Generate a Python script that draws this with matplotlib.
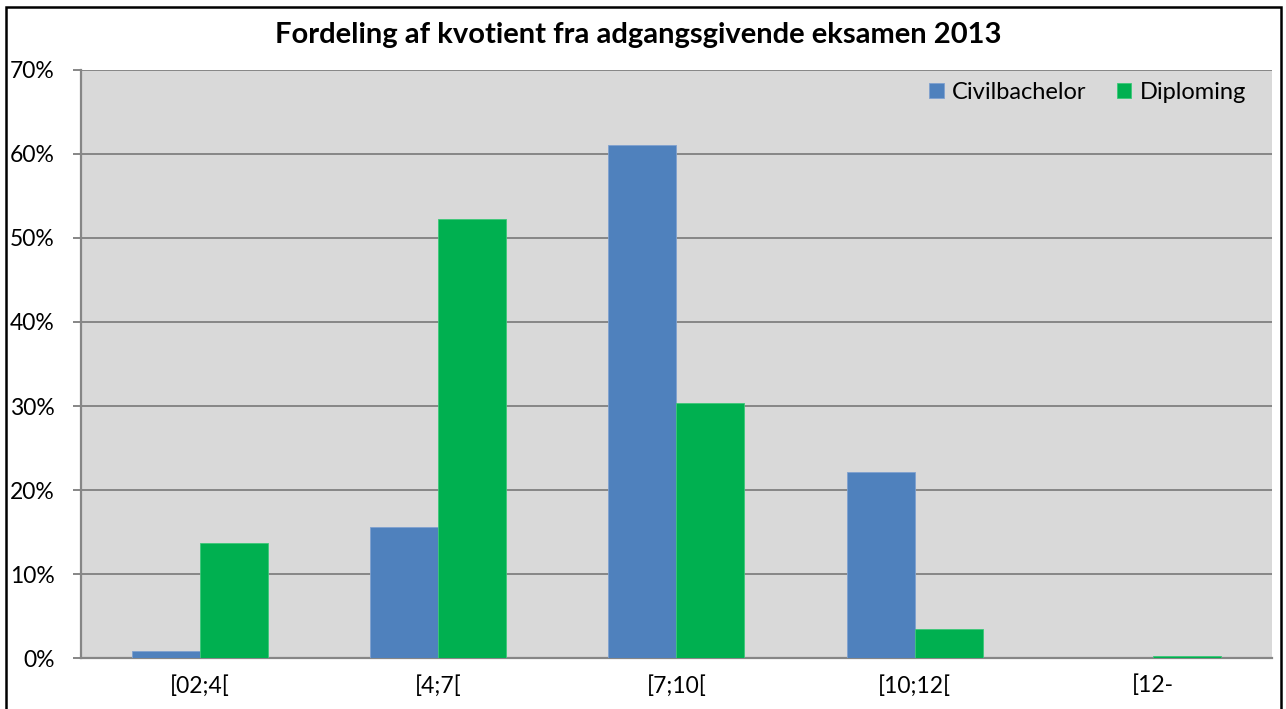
import matplotlib.pyplot as plt
import numpy as np
from matplotlib.patches import Rectangle
from matplotlib.ticker import PercentFormatter

# data (percent)
categories = ["[02;4[", "[4;7[", "[7;10[", "[10;12[", "[12-"]
civilbachelor = [0.8, 15.6, 61.1, 22.2, 0.05]
diploming = [13.7, 52.3, 30.4, 3.4, 0.2]

plt.rcParams["font.family"] = ["Lato", "DejaVu Sans"]

fig = plt.figure(figsize=(12.86, 7.09), dpi=100)
ax = fig.add_axes([0.063, 0.0719, 0.926, 0.8294])

x = np.arange(len(categories))
w = 1 / 3.5
ax.bar(x - w / 2, civilbachelor, w, color="#4F81BD", edgecolor="#7FA1CF",
       linewidth=0.6, label="Civilbachelor", zorder=3)
ax.bar(x + w / 2, diploming, w, color="#00B050", edgecolor="#3CC878",
       linewidth=0.6, label="Diploming", zorder=3)

ax.set_facecolor("#D9D9D9")
ax.set_xlim(-0.5, len(categories) - 0.5)
ax.set_ylim(0, 70)
ax.set_yticks(range(0, 71, 10))
ax.yaxis.set_major_formatter(PercentFormatter(decimals=0))
ax.grid(axis="y", color="#868686", linewidth=1.4, zorder=1)

ax.set_xticks(x)
ax.set_xticklabels(categories)
ax.tick_params(axis="x", length=0, labelsize=16.5, pad=12)
ax.tick_params(axis="y", length=6, width=1.4, color="#868686",
               labelsize=16.5, pad=13)

for s in ["top", "right"]:
    ax.spines[s].set_visible(False)
for s in ["left", "bottom"]:
    ax.spines[s].set_color("#868686")
    ax.spines[s].set_linewidth(1.6)

ax.legend(loc="upper right", ncol=2, frameon=False, fontsize=17,
          handlelength=0.6, handleheight=0.6, handletextpad=0.35,
          columnspacing=1.3, borderaxespad=0.2, bbox_to_anchor=(0.99, 1.004))

fig.text(0.496, 0.951, "Fordeling af kvotient fra adgangsgivende eksamen 2013",
         ha="center", va="center", fontsize=21, fontweight="bold")

# chart border
fig.add_artist(Rectangle((6 / 1286, -0.01), 1275 / 1286, 1.0 - 7 / 709 + 0.01,
                         transform=fig.transFigure, fill=False,
                         edgecolor="black", linewidth=1.8))

fig.savefig("out.png", dpi=100)
